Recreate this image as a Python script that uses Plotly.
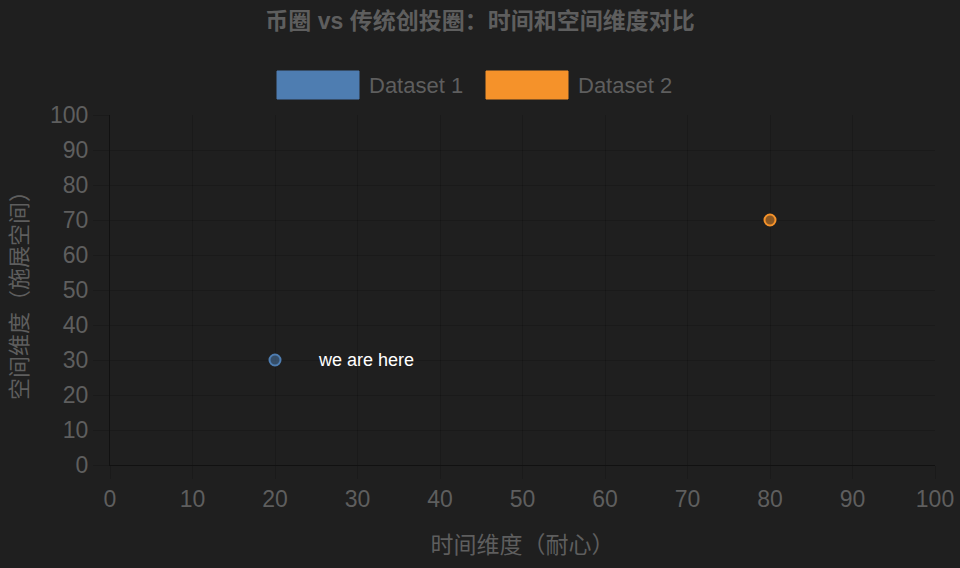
import plotly.graph_objects as go

# data
series_names = ["Dataset 1", "Dataset 2"]
series_x = [[20], [80]]   # 时间维度（耐心）
series_y = [[30], [70]]   # 空间维度（施展空间）
series_colors = ["#4e7db1", "#f5922a"]
series_fills = ["rgba(78,125,177,0.5)", "rgba(245,146,42,0.5)"]
note_text = "we are here"
note_x = 31
note_y = 30

bg = "#1f1f1f"
grid = "rgba(0,0,0,0.16)"
axis_line = "rgba(0,0,0,0.45)"
txt = "#5e5e5e"
font_family = "Liberation Sans, Noto Sans CJK SC, sans-serif"

fig = go.Figure()

for name, xs, ys, c, f in zip(series_names, series_x, series_y, series_colors, series_fills):
    fig.add_trace(go.Scatter(
        x=xs, y=ys, mode="markers", name=name, showlegend=False,
        marker=dict(size=11, color=f, line=dict(color=c, width=2)),
    ))

# "we are here" label
fig.add_annotation(x=note_x, y=note_y, text=note_text, showarrow=False,
                   font=dict(size=18, color="#ffffff", family=font_family))

# chart.js-like legend with wide boxes
leg_x0 = [277, 486]
for i, (name, c) in enumerate(zip(series_names, series_colors)):
    x0 = (leg_x0[i] - 110) / 825
    x1 = (leg_x0[i] + 82 - 110) / 825
    fig.add_shape(type="rect", xref="paper", yref="paper",
                  x0=x0, x1=x1,
                  y0=(465 - 99) / 350, y1=(465 - 71) / 350,
                  fillcolor=c, line=dict(color=c, width=1))
    fig.add_annotation(xref="paper", yref="paper", x=(leg_x0[i] + 90 - 110) / 825,
                       y=(465 - 85) / 350, xanchor="left", yanchor="middle",
                       text=name, showarrow=False,
                       font=dict(size=22, color=txt, family=font_family))

fig.update_xaxes(
    range=[0, 100], dtick=10, tick0=0, automargin=False,
    showgrid=True, gridcolor=grid, gridwidth=1,
    ticks="outside", ticklen=13, tickcolor=grid,
    tickfont=dict(size=23, color=txt, family=font_family),
    zeroline=False, showline=True, linecolor=axis_line, linewidth=1,
    title=dict(text="时间维度（耐心）", font=dict(size=23, color=txt), standoff=26),
)
fig.update_yaxes(
    range=[0, 100], dtick=10, tick0=0, automargin=False,
    showgrid=True, gridcolor=grid, gridwidth=1,
    ticks="outside", ticklen=16, tickcolor=grid,
    tickfont=dict(size=23, color=txt, family=font_family),
    zeroline=False, showline=True, linecolor=axis_line, linewidth=1,
    title=dict(text="空间维度（施展空间）", font=dict(size=22, color=txt), standoff=16),
)

fig.update_layout(
    width=960, height=568,
    paper_bgcolor=bg, plot_bgcolor=bg,
    margin=dict(l=110, r=25, t=115, b=103),
    font=dict(family=font_family, color=txt),
    title=dict(text="<b>币圈 vs 传统创投圈：时间和空间维度对比</b>",
               x=0.5, xanchor="center", y=1 - 21 / 568, yanchor="middle",
               font=dict(size=23, color=txt, family=font_family)),
    showlegend=False,
)

fig.write_html("out.html", config={"displayModeBar": False},
               post_script="document.body.style.margin='0';document.body.style.overflow='hidden';document.body.style.background='#1f1f1f';")
